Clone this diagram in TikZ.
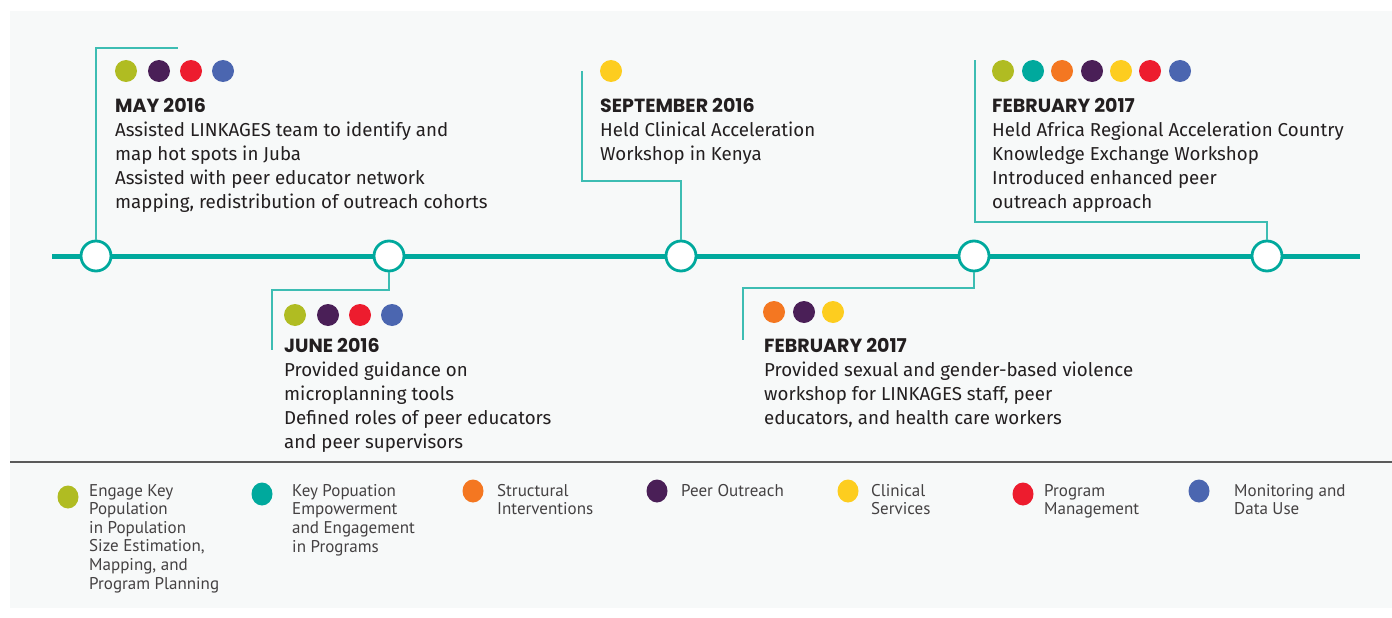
\documentclass[tikz,border=0pt]{standalone}
\usepackage{fontspec}
\setmainfont{Fira Sans}
\newfontfamily\legfont{PT Sans}
\newfontfamily\headfont{Poppins}
\usetikzlibrary{shapes.geometric}
\definecolor{bgc}{HTML}{F7F9F9}
\definecolor{tealc}{HTML}{00A99D}
\definecolor{linec}{HTML}{3DBDB3}
\definecolor{txtc}{HTML}{231F20}
\definecolor{olivec}{HTML}{B0BC22}
\definecolor{orangec}{HTML}{F47721}
\definecolor{purplec}{HTML}{4A1F57}
\definecolor{yellowc}{HTML}{FDCD1F}
\definecolor{redc}{HTML}{ED1C2E}
\definecolor{bluec}{HTML}{4B66B0}
\definecolor{sepc}{HTML}{5A5A5A}
\newcommand{\hd}[1]{{\headfont\bfseries\fontsize{19}{24}\selectfont #1}}
\tikzset{
  milestone/.style={circle, draw=tealc, line width=2.8pt, fill=white, minimum size=30pt, inner sep=0pt},
  tagdot/.style={circle, fill=#1, minimum size=22pt, inner sep=0pt},
  legdot/.style={ellipse, fill=#1, minimum width=21pt, minimum height=23pt, inner sep=0pt},
  leader/.style={draw=linec, line width=1.4pt},
  bodytext/.style={anchor=north west, align=left, inner sep=0pt, text=txtc, font=\fontsize{18.7}{24}\selectfont},
  legtext/.style={anchor=north west, align=left, inner sep=0pt, text=txtc!85, font=\legfont\fontsize{17}{18.6}\selectfont},
}
\begin{document}
\begin{tikzpicture}[x=1pt,y=-1pt]
\useasboundingbox (0,0) rectangle (1392,618);
\fill[white] (0,0) rectangle (1392,618);
\fill[bgc] (10,11) rectangle (1392,608);
% timeline
\draw[tealc, line width=5pt] (52,256) -- (1360,256);
\node[milestone] (m1) at (96,256) {};
\node[milestone] (m2) at (389,256) {};
\node[milestone] (m3) at (681,256) {};
\node[milestone] (m4) at (974,256) {};
\node[milestone] (m5) at (1267,256) {};
% leader end points
\coordinate (e1) at (178,48);
\coordinate (e2) at (272,350);
\coordinate (e3) at (582,71);
\coordinate (e4) at (743,340);
\coordinate (e5) at (975,60);
\draw[leader] (m1.north) |- (e1);
\draw[leader] (m2.south) -- (389,290) -| (e2);
\draw[leader] (m3.north) -- (681,181) -| (e3);
\draw[leader] (m4.south) -- (974,288) -| (e4);
\draw[leader] (m5.north) -- (1267,222) -| (e5);
% May 2016
\node[tagdot=olivec] (a1) at (126,71) {};
\node[tagdot=purplec] (a2) at (159,71) {};
\node[tagdot=redc] (a3) at (191,71) {};
\node[tagdot=bluec] (a4) at (223,71) {};
\node[bodytext] (t1) at (115,98.5) {\hd{MAY 2016}\\Assisted LINKAGES team to identify and\\map hot spots in Juba\\Assisted with peer educator network\\mapping, redistribution of outreach cohorts};
% June 2016
\node[tagdot=olivec] (b1) at (295,315) {};
\node[tagdot=purplec] (b2) at (328,315) {};
\node[tagdot=redc] (b3) at (360,315) {};
\node[tagdot=bluec] (b4) at (392,315) {};
\node[bodytext] (t2) at (284,338.5) {\hd{JUNE 2016}\\Provided guidance on\\microplanning tools\\Defined roles of peer educators\\and peer supervisors};
% Sept 2016
\node[tagdot=yellowc] (c1) at (611,71) {};
\node[bodytext] (t3) at (600,98.5) {\hd{SEPTEMBER 2016}\\Held Clinical Acceleration\\Workshop in Kenya};
% Feb 2017 lower
\node[tagdot=orangec] (d1) at (774,312) {};
\node[tagdot=purplec] (d2) at (804,312) {};
\node[tagdot=yellowc] (d3) at (833,312) {};
\node[bodytext] (t4) at (764,338.5) {\hd{FEBRUARY 2017}\\Provided sexual and gender-based violence\\workshop for LINKAGES staff, peer\\educators, and health care workers};
% Feb 2017 upper
\node[tagdot=olivec] (f1) at (1003,71) {};
\node[tagdot=tealc] (f2) at (1033,71) {};
\node[tagdot=orangec] (f3) at (1062,71) {};
\node[tagdot=purplec] (f4) at (1092,71) {};
\node[tagdot=yellowc] (f5) at (1121,71) {};
\node[tagdot=redc] (f6) at (1150,71) {};
\node[tagdot=bluec] (f7) at (1180,71) {};
\node[bodytext] (t5) at (992,98.5) {\hd{FEBRUARY 2017}\\Held Africa Regional Acceleration Country\\Knowledge Exchange Workshop\\Introduced enhanced peer\\outreach approach};
% separator
\draw[sepc, line width=1.3pt] (10,462) -- (1392,462);
% legend
\node[legdot=olivec] (l1) at (68,497) {};
\node[legtext] (lt1) at (89,484) {Engage Key\\Population\\in Population\\Size Estimation,\\Mapping, and\\Program Planning};
\node[legdot=tealc] (l2) at (262,494) {};
\node[legtext] (lt2) at (292,484) {Key Popuation\\Empowerment\\and Engagement\\in Programs};
\node[legdot=orangec] (l3) at (473,491) {};
\node[legtext] (lt3) at (497,484) {Structural\\Interventions};
\node[legdot=purplec] (l4) at (657,491) {};
\node[legtext] (lt4) at (681,484) {Peer Outreach};
\node[legdot=yellowc] (l5) at (848,491) {};
\node[legtext] (lt5) at (871,484) {Clinical\\Services};
\node[legdot=redc] (l6) at (1023,494) {};
\node[legtext] (lt6) at (1044,484) {Program\\Management};
\node[legdot=bluec] (l7) at (1199,491) {};
\node[legtext] (lt7) at (1234,484) {Monitoring and\\Data Use};
\end{tikzpicture}
\end{document}
